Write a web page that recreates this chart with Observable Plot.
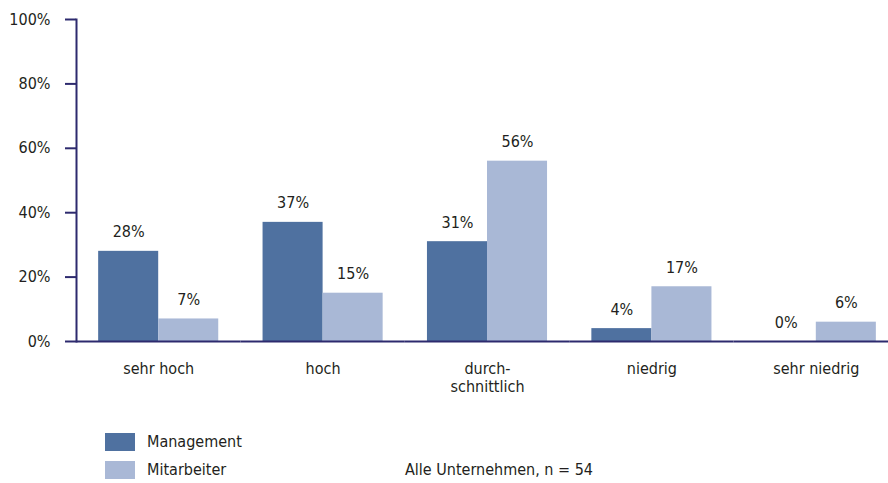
<!DOCTYPE html>
<html>
<head>
<meta charset="utf-8">
<script src="https://cdn.jsdelivr.net/npm/d3@7"></script>
<script src="https://cdn.jsdelivr.net/npm/@observablehq/plot@0.6"></script>
<style>
  html, body { margin: 0; padding: 0; background: #fff; overflow: hidden; }
  #wrap { position: relative; width: 888px; height: 483px; overflow: hidden;
          font-family: "Liberation Sans Narrow", "DejaVu Sans Condensed", "Open Sans", sans-serif; color: #231f20; }
  #chart { position: absolute; left: 0; top: 0; }
  #chart svg { max-width: none !important; }
  .sw { position: absolute; width: 30px; height: 18px; }
  .lt { position: absolute; font-size: 16px; line-height: 18px; }
</style>
</head>
<body>
<div id="wrap">
  <div id="chart"></div>
  <div class="sw" id="sw1" style="left:105px; top:433px;"></div>
  <div class="lt" id="lt1" style="left:147px; top:433px;"></div>
  <div class="sw" id="sw2" style="left:105px; top:461px;"></div>
  <div class="lt" id="lt2" style="left:147px; top:461px;"></div>
  <div class="lt" id="cap" style="left:405px; top:461px;"></div>
</div>
<script>
const categories = ["sehr hoch", "hoch", "durch-\nschnittlich", "niedrig", "sehr niedrig"];
const series = ["Management", "Mitarbeiter"];
const management = [28, 37, 31, 4, 0];
const mitarbeiter = [7, 15, 56, 17, 6];
const yTicks = [0, 20, 40, 60, 80, 100];
const colors = ["#4f71a0", "#a9b8d6"];
const caption = "Alle Unternehmen, n = 54";

const navy = "#2d2a6e";
const data = categories.flatMap((c, i) => [
  {cat: c, series: series[0], value: management[i]},
  {cat: c, series: series[1], value: mitarbeiter[i]}
]);

const chart = Plot.plot({
  width: 898,
  height: 425,
  marginLeft: 76,
  marginRight: 0,
  marginTop: 19,
  marginBottom: 84,
  style: {fontFamily: '"Liberation Sans Narrow", "DejaVu Sans Condensed", "Open Sans", sans-serif', fontSize: "16px", color: "#231f20", background: "transparent", maxWidth: "none"},
  fx: {domain: categories, padding: 0, round: false, label: null},
  x: {domain: series, paddingInner: 0, paddingOuter: 0.369, round: false, axis: null},
  y: {domain: [0, 100], label: null},
  color: {domain: series, range: colors},
  marks: [
    Plot.barY(data, {fx: "cat", x: "series", y: "value", fill: "series"}),
    Plot.text(data, {fx: "cat", x: "series", y: "value", text: d => d.value + "%", dy: -19, lineAnchor: "middle", fontSize: 16, fill: "#231f20"}),
    Plot.ruleY([0], {stroke: navy, strokeWidth: 2}),
    Plot.frame({anchor: "left", facet: "super", stroke: navy, strokeWidth: 2}),
    Plot.axisY({ticks: yTicks, tickFormat: d => d + "%", tickSize: 11, tickPadding: 15, label: null, stroke: navy, strokeWidth: 2, fontSize: 16, color: "#231f20"}),
    Plot.axisFx({anchor: "bottom", tickSize: 0, tickPadding: 20, label: null, fontSize: 16, lineHeight: 1.12})
  ]
});
document.getElementById("chart").appendChild(chart);
document.getElementById("sw1").style.background = colors[0];
document.getElementById("sw2").style.background = colors[1];
document.getElementById("lt1").textContent = series[0];
document.getElementById("lt2").textContent = series[1];
document.getElementById("cap").textContent = caption;
</script>
</body>
</html>
